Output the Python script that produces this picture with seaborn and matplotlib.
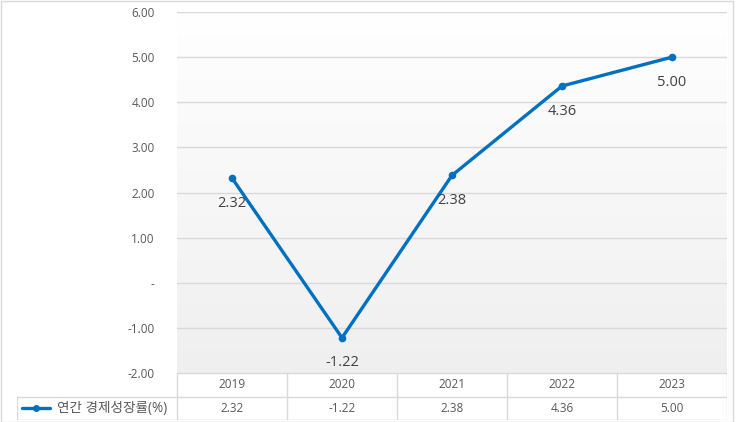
import numpy as np
import pandas as pd
import matplotlib
matplotlib.use("Agg")
import matplotlib.pyplot as plt
from matplotlib.patches import Rectangle
import seaborn as sns

# data
years = ["2019", "2020", "2021", "2022", "2023"]
growth = [2.32, -1.22, 2.38, 4.36, 5.00]
series_name = "연간 경제성장률(%)"
y_ticks = [-2, -1, 0, 1, 2, 3, 4, 5, 6]

sns.set_theme(style="white")
plt.rcParams['font.family'] = ['Open Sans', 'Noto Sans CJK KR', 'DejaVu Sans']

LINE = "#0070C0"
GRID = "#d9d9d9"
TXT = "#595959"

df = pd.DataFrame({"pos": np.arange(len(years)), "year": years, "value": growth})

W, H = 736, 422
fig = plt.figure(figsize=(W / 100, H / 100), dpi=100)
fig.patch.set_facecolor("white")

# plot area
ax = fig.add_axes([177 / W, (H - 373) / H, 550 / W, 361 / H])
ax.set_xlim(-0.5, len(years) - 0.5)
ax.set_ylim(min(y_ticks), max(y_ticks))

# background gradient (white at top -> light gray at bottom)
grad = np.linspace(0, 1, 256).reshape(-1, 1)
ax.imshow(grad, extent=[-0.5, len(years) - 0.5, min(y_ticks), max(y_ticks)],
          aspect="auto", cmap=matplotlib.colors.LinearSegmentedColormap.from_list(
              "bg", ["#ffffff", "#efefef"]), origin="upper", zorder=0)

for t in y_ticks:
    ax.axhline(t, color=GRID, lw=1, zorder=1)

sns.lineplot(data=df, x="pos", y="value", ax=ax, color=LINE, lw=2.4,
             marker="o", markersize=5.5, markeredgewidth=0, zorder=3)

for x, v in zip(df["pos"], df["value"]):
    ax.annotate(f"{v:.2f}", (x, v), xytext=(0, -18), textcoords="offset points",
                ha="center", va="center", fontsize=10.5, color="#404040")

ax.set_yticks(y_ticks)
ax.set_yticklabels(["-" if t == 0 else f"{t:.2f}" for t in y_ticks],
                   fontsize=8.5, color=TXT)
ax.tick_params(axis="y", length=0, pad=16)
ax.set_xticks([])
ax.set_xlabel("")
ax.set_ylabel("")
for s in ax.spines.values():
    s.set_visible(False)

# data table under the plot
left_px = 17
tab = fig.add_axes([left_px / W, 2 / H, 710 / W, 371 / H - 324 / H])
x0 = -0.5 - (177 - left_px) / 110
tab.set_xlim(x0, len(years) - 0.5)
tab.set_ylim(0, 2)
tab.axis("off")

tab.plot([-0.5, len(years) - 0.5], [2, 2], color=GRID, lw=1)
for yy in [1, 0]:
    tab.plot([x0, len(years) - 0.5], [yy, yy], color=GRID, lw=1)
for i in range(len(years) + 1):
    tab.plot([i - 0.5, i - 0.5], [0, 2], color=GRID, lw=1)
tab.plot([x0, x0], [0, 1], color=GRID, lw=1)

for i, (yr, v) in enumerate(zip(years, growth)):
    tab.text(i, 1.5, yr, ha="center", va="center", fontsize=8.5, color=TXT)
    tab.text(i, 0.5, f"{v:.2f}", ha="center", va="center", fontsize=8.5, color=TXT)

# legend key inside the table
kx = x0 + 5 / 110
tab.plot([kx, kx + 28 / 110], [0.5, 0.5], color=LINE, lw=2.4)
tab.plot([kx + 14 / 110], [0.5], "o", color=LINE, markersize=5, markeredgewidth=0)
tab.text(kx + 35 / 110, 0.5, series_name, ha="left", va="center", fontsize=9.8, color=TXT)

# outer border
fig.add_artist(Rectangle((0.5 / W, 0.5 / H), 732 / W, 421 / H, transform=fig.transFigure,
                         fill=False, edgecolor=GRID, lw=1))

fig.savefig("out.png", dpi=100)
plt.close(fig)
